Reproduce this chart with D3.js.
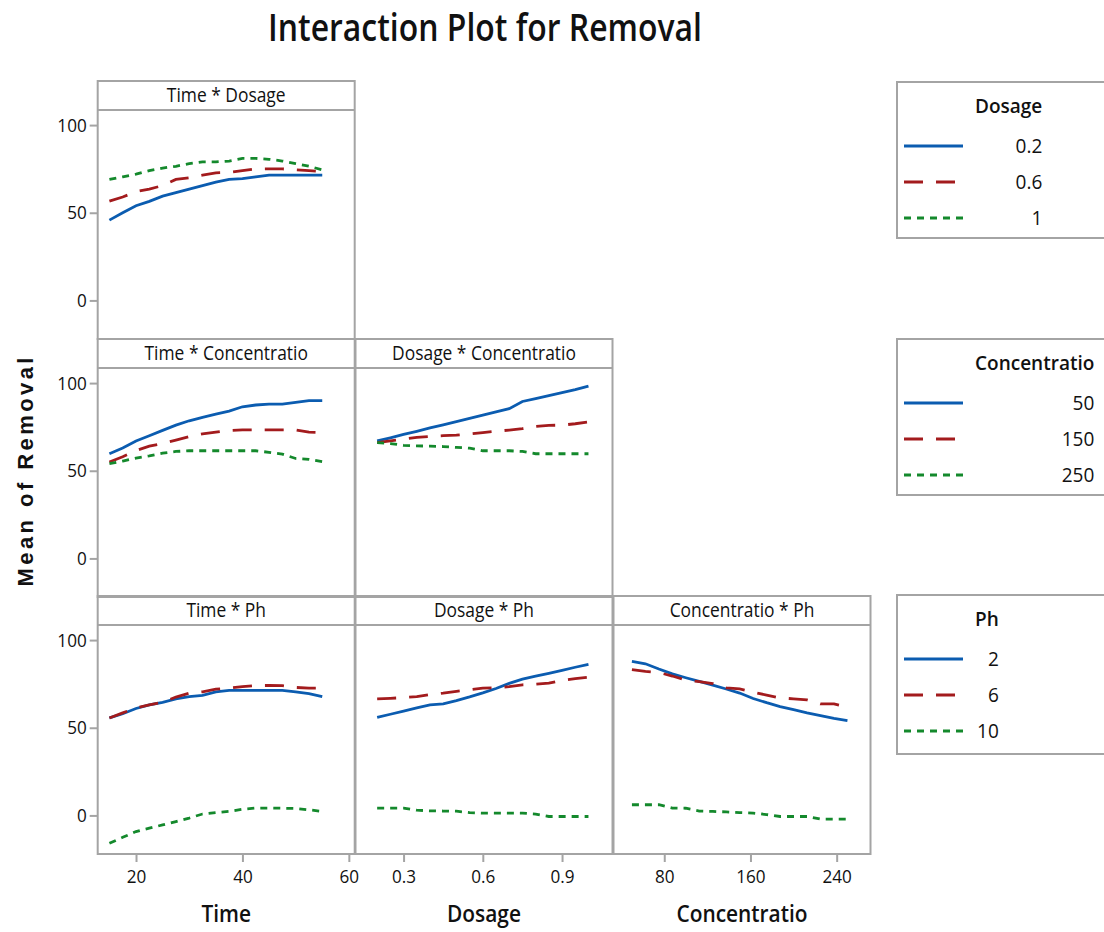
<!DOCTYPE html>
<html>
<head>
<meta charset="utf-8">
<script src="https://cdn.jsdelivr.net/npm/d3@7"></script>
<style>
  body { margin: 0; background: #fff; }
  svg text { font-family: "Open Sans", "Noto Sans", sans-serif; fill: #111; }
</style>
</head>
<body>
<svg width="1104" height="932"></svg>
<script>
'use strict';

// factor levels on the x axes
var timeLevels = [15, 17.5, 20, 22.5, 25, 27.5, 30, 32.5, 35, 37.5, 40, 42.5, 45, 47.5, 50, 52.5, 55];
var dosageLevels = [0.2, 0.25, 0.3, 0.35, 0.4, 0.45, 0.5, 0.55, 0.6, 0.65, 0.7, 0.75, 0.8, 0.85, 0.9, 0.95, 1.0];
var concLevels = [50, 62.5, 75, 87.5, 100, 112.5, 125, 137.5, 150, 162.5, 175, 187.5, 200, 212.5, 225, 237.5, 250];

// Time * Dosage
var td02 = [45.8, 50, 54, 56.5, 59.5, 61.5, 63.5, 65.5, 67.5, 69, 69.5, 70.5, 71.5, 71.5, 71.5, 71.5, 71.5];
var td06 = [56.6, 59, 62, 63.5, 65.5, 69, 70, 71.5, 72.8, 73, 74, 75, 75, 75, 74.5, 74, 73.5];
var td1  = [69, 70.5, 72, 74, 75.5, 76.5, 78, 79, 79, 79.5, 81, 81, 80.5, 79.5, 78, 76.5, 74.5];

// Time * Concentratio
var tc50  = [59.7, 63, 67, 70, 73, 76, 78.5, 80.5, 82.3, 84, 86.5, 87.5, 88, 88, 89, 90, 90];
var tc150 = [55, 58, 61.5, 64, 65.5, 67.5, 69.5, 71, 72, 73, 73.3, 73.3, 73.3, 73.3, 73.3, 72, 71.8];
var tc250 = [54, 55.5, 57.2, 58.5, 60, 61, 61.4, 61.4, 61.4, 61.4, 61.4, 61.4, 60.5, 59.5, 57, 56.5, 55.2];

// Dosage * Concentratio
var dc50  = [67, 68.8, 70.7, 72.5, 74.4, 76.2, 78, 79.9, 81.7, 83.6, 85.4, 89.5, 91.2, 92.9, 94.6, 96.3, 98.3];
var dc150 = [66, 67, 68, 69, 69.5, 70, 70.3, 71, 71.8, 72.5, 73.2, 74, 75.3, 75.9, 76, 76.8, 77.8];
var dc250 = [66, 65.5, 64.5, 64.2, 64, 63.8, 63.3, 62.9, 61.4, 61.4, 61.4, 61, 59.7, 59.7, 59.7, 59.7, 59.7];

// Time * Ph
var tp2  = [55.6, 58, 61, 63, 64.5, 66.5, 67.8, 68.5, 70.5, 71.3, 71.3, 71.3, 71.3, 71.3, 70.5, 69.5, 67.8];
var tp6  = [55.6, 58.5, 61.3, 63, 64.5, 67.5, 69.7, 70.5, 72, 72.6, 73.5, 74.1, 74.1, 74, 73, 72.6, 72.6];
var tp10 = [-15.9, -12.5, -9.2, -7.3, -5.4, -3.5, -1.5, 0.8, 1.6, 2.3, 3.5, 4.2, 4.2, 4.1, 4, 3.2, 2.3];

// Dosage * Ph
var dp2  = [55.9, 57.7, 59.5, 61.3, 63.1, 63.6, 65.5, 67.6, 69.9, 72.4, 75.3, 77.7, 79.4, 81, 82.7, 84.5, 86.2];
var dp6  = [66.5, 66.8, 67.2, 67.8, 69, 69.8, 70.8, 71.7, 72.6, 72.8, 73.5, 74.5, 74.8, 75.4, 77, 78, 78.9];
var dp10 = [4.2, 4.2, 4.2, 3, 2.6, 2.5, 2.4, 1.6, 1.3, 1.3, 1.3, 1.3, 0.8, -0.6, -0.6, -0.6, -0.6];

// Concentratio * Ph
var cp2  = [87.9, 86.5, 83.5, 80.7, 78.5, 76.4, 74.3, 72.1, 69.8, 66.7, 64.3, 62.1, 60.3, 58.5, 56.9, 55.3, 54];
var cp6  = [83.2, 82.2, 81.5, 79.5, 77.2, 76.3, 75.2, 72.8, 72.2, 70.3, 68.6, 67, 66.5, 65.9, 63.6, 63.6, 61.7];
var cp10 = [6.1, 6.1, 6.1, 4.2, 4.1, 2.5, 2.3, 2, 1.6, 1.3, 0.5, -0.6, -0.6, -0.6, -2.1, -2.1, -2.1];

// legends and ticks
var dosageLegend = ['0.2', '0.6', '1'];
var concLegend = ['50', '150', '250'];
var phLegend = ['2', '6', '10'];
var yTicks = [0, 50, 100];
var timeTicks = [20, 40, 60];
var dosageTicks = [0.3, 0.6, 0.9];
var concTicks = [80, 160, 240];
var colNames = ['Time', 'Dosage', 'Concentratio'];

var colors = ['#0b5cb0', '#a31b1d', '#14892c'];
var dashes = [null, '19 13', '7 6'];

var svg = d3.select('svg');

// squash text horizontally, the original font is narrow
function squeeze(sel, k) {
    sel.each(function() {
        var L = this.getComputedTextLength();
        d3.select(this).attr('textLength', L * k).attr('lengthAdjust', 'spacingAndGlyphs');
    });
    return sel;
}

var colLeft = [97.7, 355.5, 613.5];
var colW = 257;
var rowTop = [81, 339, 596];
var stripH = 29;
var panelH = 258;

var xScales = [
    d3.scaleLinear().domain([12.8, 61.1]).range([colLeft[0], colLeft[0] + colW]),
    d3.scaleLinear().domain([0.118, 1.091]).range([colLeft[1], colLeft[1] + colW]),
    d3.scaleLinear().domain([32.9, 271.4]).range([colLeft[2], colLeft[2] + colW])
];
var xLevels = [timeLevels, dosageLevels, concLevels];
var xTickVals = [timeTicks, dosageTicks, concTicks];
var xFormats = [d3.format('d'), d3.format('.1f'), d3.format('d')];

function yScale(r) {
    return d3.scaleLinear().domain([-22, 108.6]).range([rowTop[r] + panelH, rowTop[r] + stripH]);
}

var panels = [
    {row: 0, col: 0, label: 'Time * Dosage', series: [td02, td06, td1]},
    {row: 1, col: 0, label: 'Time * Concentratio', series: [tc50, tc150, tc250]},
    {row: 1, col: 1, label: 'Dosage * Concentratio', series: [dc50, dc150, dc250]},
    {row: 2, col: 0, label: 'Time * Ph', series: [tp2, tp6, tp10]},
    {row: 2, col: 1, label: 'Dosage * Ph', series: [dp2, dp6, dp10]},
    {row: 2, col: 2, label: 'Concentratio * Ph', series: [cp2, cp6, cp10]}
];

// title
svg.append('text')
    .attr('x', 485).attr('y', 41)
    .attr('text-anchor', 'middle')
    .style('font-size', '37px').style('font-weight', 600)
    .attr('textLength', 434).attr('lengthAdjust', 'spacingAndGlyphs')
    .text('Interaction Plot for Removal');

panels.forEach(function(p) {
    var x = xScales[p.col];
    var y = yScale(p.row);
    var x0 = colLeft[p.col], y0 = rowTop[p.row];
    var g = svg.append('g');

    var line = d3.line()
        .x(function(d, i) { return x(xLevels[p.col][i]); })
        .y(function(d) { return y(d); });

    p.series.forEach(function(s, si) {
        g.append('path')
            .attr('d', line(s))
            .attr('fill', 'none')
            .attr('stroke', colors[si])
            .attr('stroke-width', 2.8)
            .attr('stroke-dasharray', dashes[si]);
    });

    // panel frame and strip
    g.append('rect')
        .attr('x', x0).attr('y', y0).attr('width', colW).attr('height', panelH)
        .attr('fill', 'none').attr('stroke', '#a4a4a4').attr('stroke-width', 2);
    g.append('line')
        .attr('x1', x0).attr('x2', x0 + colW).attr('y1', y0 + stripH).attr('y2', y0 + stripH)
        .attr('stroke', '#a4a4a4').attr('stroke-width', 2);
    squeeze(g.append('text')
        .attr('x', x0 + colW / 2).attr('y', y0 + 21)
        .attr('text-anchor', 'middle')
        .style('font-size', '20px')
        .text(p.label), 0.87);

    if (p.col === 0) {
        var ya = svg.append('g')
            .attr('transform', 'translate(' + x0 + ',0)')
            .call(d3.axisLeft(y).tickValues(yTicks).tickSize(8).tickPadding(3));
        ya.select('.domain').remove();
        ya.selectAll('.tick line').attr('stroke', '#a4a4a4').attr('stroke-width', 2);
        squeeze(ya.selectAll('.tick text').attr('font-family', null).style('font-size', '19px').attr('fill', '#111'), 0.9);
    }
    if (p.row === 2) {
        var xa = svg.append('g')
            .attr('transform', 'translate(0,' + (y0 + panelH) + ')')
            .call(d3.axisBottom(x).tickValues(xTickVals[p.col]).tickFormat(xFormats[p.col]).tickSize(8).tickPadding(8));
        xa.select('.domain').remove();
        xa.selectAll('.tick line').attr('stroke', '#a4a4a4').attr('stroke-width', 2);
        squeeze(xa.selectAll('.tick text').attr('font-family', null).style('font-size', '19px').attr('fill', '#111'), 0.9);
        squeeze(svg.append('text')
            .attr('x', x0 + colW / 2).attr('y', 922)
            .attr('text-anchor', 'middle')
            .style('font-size', '24px').style('font-weight', 600)
            .text(colNames[p.col]), 0.87);
    }
});

// y axis label
svg.append('text')
    .attr('transform', 'translate(33,472) rotate(-90)')
    .attr('text-anchor', 'middle')
    .style('font-family', '"Liberation Sans", Arial, sans-serif')
    .style('font-size', '22px').style('font-weight', 'bold')
    .attr('textLength', 229).attr('lengthAdjust', 'spacing')
    .text('Mean of Removal');

// legends
var legends = [
    {title: 'Dosage', items: dosageLegend, top: 82, bottom: 238},
    {title: 'Concentratio', items: concLegend, top: 339, bottom: 495},
    {title: 'Ph', items: phLegend, top: 595, bottom: 754}
];

legends.forEach(function(lg) {
    var g = svg.append('g');
    g.append('rect')
        .attr('x', 897).attr('y', lg.top).attr('width', 230).attr('height', lg.bottom - lg.top)
        .attr('fill', 'none').attr('stroke', '#a4a4a4').attr('stroke-width', 2);
    var t = g.append('text')
        .attr('x', 975).attr('y', lg.top + 31)
        .style('font-size', '20px').style('font-weight', 600)
        .text(lg.title);
    squeeze(t, 0.95);
    var right = 975 + (+t.attr('textLength'));
    lg.items.forEach(function(name, i) {
        var ly = lg.top + 64 + i * 36;
        g.append('line')
            .attr('x1', 904).attr('x2', 963).attr('y1', ly).attr('y2', ly)
            .attr('stroke', colors[i]).attr('stroke-width', 2.8)
            .attr('stroke-dasharray', dashes[i]);
        squeeze(g.append('text')
            .attr('x', right).attr('y', ly + 7)
            .attr('text-anchor', 'end')
            .style('font-size', '20px').style('font-weight', 500)
            .text(name), 0.95);
    });
});
</script>
</body>
</html>
